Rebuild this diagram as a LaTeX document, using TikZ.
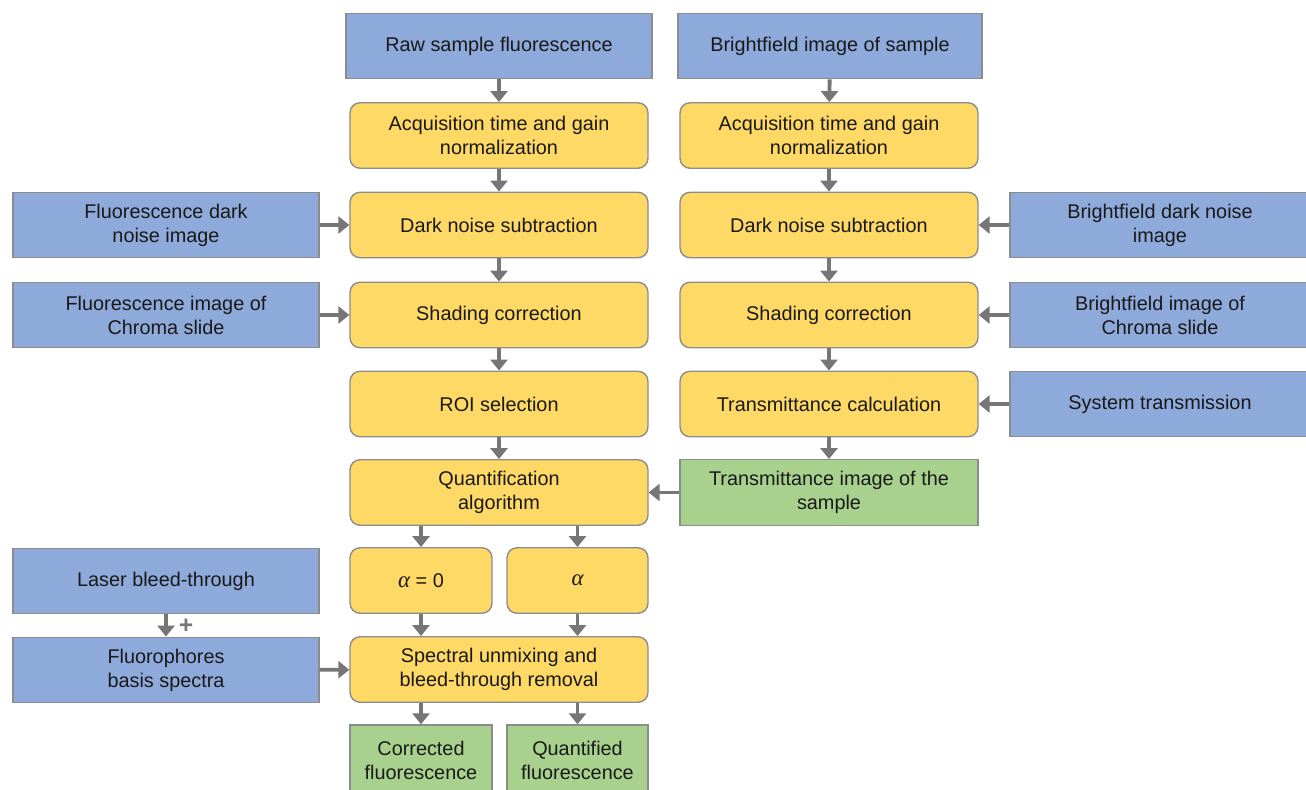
\documentclass[tikz,border=0pt]{standalone}
\usepackage{fontspec}
\setmainfont{Liberation Sans}
\newfontfamily\greekfont{Liberation Serif}
\usetikzlibrary{arrows.meta}
\definecolor{boxblue}{HTML}{8EAADB}
\definecolor{boxyellow}{HTML}{FFD966}
\definecolor{boxgreen}{HTML}{A9D18E}
\definecolor{edgegrey}{HTML}{8C8C8C}
\definecolor{arrowgrey}{HTML}{767676}
\newcommand{\alphasym}{{\greekfont\itshape\fontsize{13}{13}\selectfont α}}
\tikzset{
  box/.style={draw=edgegrey, line width=0.8pt, align=center, inner sep=0pt,
    minimum height=1.31cm, font=\fontsize{11.3}{13.6}\selectfont, text=black!90},
  src/.style={box, fill=boxblue, minimum width=#1},
  src/.default=6.12cm,
  proc/.style={box, fill=boxyellow, rounded corners=0.2cm, minimum width=#1},
  proc/.default=5.96cm,
  result/.style={box, fill=boxgreen, minimum width=#1},
  result/.default=5.96cm,
  flow/.style={draw=arrowgrey, line width=2.2pt, -{Triangle[length=0.22cm,width=0.34cm]}}
}

\begin{document}
\begin{tikzpicture}[x=0.02cm, y=-0.02cm]
      \useasboundingbox (0,0) rectangle (1306,789);
      % fluorescence branch
      \node[src] (raw) at (499,46) {Raw sample fluorescence};
      \node[proc] (acqL) at (499,135.5) {Acquisition time and gain\\normalization};
      \node[proc] (darkL) at (499,225) {Dark noise subtraction};
      \node[proc] (shadL) at (499,315) {Shading correction};
      \node[proc] (roi) at (499,404) {ROI selection};
      \node[proc] (quant) at (499,492.5) {Quantification\\algorithm};
      \node[proc=2.84cm] (azero) at (421,580.5) {\alphasym\ = 0};
      \node[proc=2.82cm] (afull) at (577.5,580.5) {\alphasym};
      \node[proc] (unmix) at (499,669.5) {Spectral unmixing and\\bleed-through removal};
      \node[result=2.84cm, minimum height=1.4cm] (corr) at (421,760) {Corrected\\fluorescence};
      \node[result=2.82cm, minimum height=1.4cm] (quantf) at (577.5,760) {Quantified\\fluorescence};
      % brightfield branch
      \node[src=6.08cm] (bright) at (830,46) {Brightfield image of sample};
      \node[proc] (acqR) at (829,135.5) {Acquisition time and gain\\normalization};
      \node[proc] (darkR) at (829,225) {Dark noise subtraction};
      \node[proc] (shadR) at (829,315) {Shading correction};
      \node[proc] (trans) at (829,404) {Transmittance calculation};
      \node[result] (timg) at (829,492.5) {Transmittance image of the\\sample};
      % side inputs
      \node[src] (fdark) at (166,225) {Fluorescence dark\\noise image};
      \node[src] (fshad) at (166,315) {Fluorescence image of\\Chroma slide};
      \node[src] (laser) at (166,581) {Laser bleed-through};
      \node[src] (fluo) at (166,670) {Fluorophores\\basis spectra};
      \node[src=6cm] (bdark) at (1160,225) {Brightfield dark noise\\image};
      \node[src=6cm] (bshad) at (1160,315) {Brightfield image of\\Chroma slide};
      \node[src=6cm] (sys) at (1160,404) {System transmission};
      \node[text=arrowgrey, font=\fontsize{14}{14}\selectfont\bfseries] (plus) at (186,626) {+};
      % vertical flow
      \draw[flow] (raw) -- (acqL);
      \draw[flow] (acqL) -- (darkL);
      \draw[flow] (darkL) -- (shadL);
      \draw[flow] (shadL) -- (roi);
      \draw[flow] (roi) -- (quant);
      \draw[flow] (quant.south -| azero) -- (azero);
      \draw[flow] (quant.south -| afull) -- (afull);
      \draw[flow] (azero) -- (unmix.north -| azero);
      \draw[flow] (afull) -- (unmix.north -| afull);
      \draw[flow] (unmix.south -| corr) -- (corr);
      \draw[flow] (unmix.south -| quantf) -- (quantf);
      \draw[flow] (bright) -- (acqR);
      \draw[flow] (acqR) -- (darkR);
      \draw[flow] (darkR) -- (shadR);
      \draw[flow] (shadR) -- (trans);
      \draw[flow] (trans) -- (timg);
      \draw[flow] (laser) -- (fluo);
      % horizontal flow
      \draw[flow] (fdark) -- (darkL);
      \draw[flow] (fshad) -- (shadL);
      \draw[flow] (fluo) -- (unmix);
      \draw[flow] (bdark) -- (darkR);
      \draw[flow] (bshad) -- (shadR);
      \draw[flow] (sys) -- (trans);
      \draw[flow] (timg) -- (quant);
    \end{tikzpicture}
\end{document}
